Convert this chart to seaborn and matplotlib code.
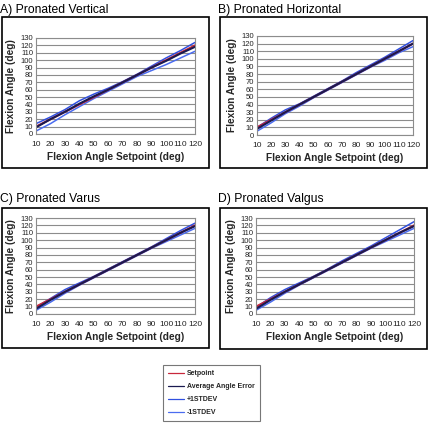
import numpy as np
import pandas as pd
import seaborn as sns
import matplotlib.pyplot as plt
from matplotlib.patches import Rectangle
from matplotlib.lines import Line2D

sns.set_theme(style="white")
plt.rcParams['font.family'] = ['Liberation Sans', 'DejaVu Sans']

setpoint = [10, 20, 30, 40, 50, 60, 70, 80, 90, 100, 110, 120]

titles = ["A) Pronated Vertical", "B) Pronated Horizontal",
          "C) Pronated Varus", "D) Pronated Valgus"]

avg_A = [9, 20, 30, 41, 51, 60, 70, 80, 90, 99, 109, 118]
plus_A = [14, 23, 33, 45, 54, 62, 71, 81, 92, 103, 113, 124]
minus_A = [4, 14, 26, 37, 48, 58, 68, 78, 86, 94, 103, 112]

avg_B = [8, 19, 30, 40, 50, 60, 70, 80, 90, 100, 110, 120]
plus_B = [10, 22, 33, 41, 51, 61, 71, 82, 92, 102, 113, 124]
minus_B = [5, 16, 28, 38, 49, 59, 69, 79, 89, 98, 108, 116]

avg_C = [7, 19, 30, 40, 50, 60, 70, 80, 90, 100, 110, 119]
plus_C = [9, 21, 33, 42, 51, 61, 71, 81, 91, 102, 113, 123]
minus_C = [5, 16, 28, 39, 49, 59, 69, 79, 89, 98, 107, 116]

avg_D = [7, 19, 30, 40, 50, 60, 70, 80, 90, 100, 110, 119]
plus_D = [9, 22, 33, 42, 51, 61, 72, 82, 92, 103, 114, 125]
minus_D = [5, 16, 28, 39, 49, 59, 69, 79, 89, 98, 107, 116]

x_ticks = [10, 20, 30, 40, 50, 60, 70, 80, 90, 100, 110, 120]
y_ticks = [0, 10, 20, 30, 40, 50, 60, 70, 80, 90, 100, 110, 120, 130]

series_names = ["Setpoint", "Average Angle Error", "+1STDEV", "-1STDEV"]
colors = {"Setpoint": "#c8283c", "Average Angle Error": "#1a1a50",
          "+1STDEV": "#3050e0", "-1STDEV": "#4a6cf0"}
widths = {"Setpoint": 1.5, "Average Angle Error": 1.5, "+1STDEV": 1.1, "-1STDEV": 1.1}

panels = [
    (avg_A, plus_A, minus_A),
    (avg_B, plus_B, minus_B),
    (avg_C, plus_C, minus_C),
    (avg_D, plus_D, minus_D),
]

W, H = 429, 424
fig = plt.figure(figsize=(W / 100, H / 100), dpi=100)

def fx(px):
    return px / W

def fy(py):
    return 1 - py / H

# axes boxes in pixel coords (left, top, right, bottom)
ax_px = [(36, 38, 195, 134), (257, 36, 413, 135), (36, 218, 195, 314), (256, 218, 414, 314)]
frame_px = [(2, 17, 209, 168), (220, 17, 427, 168), (2, 208, 209, 348), (220, 208, 427, 349)]
title_px = [(0, 10), (218, 10), (0, 199), (218, 199)]

for i in range(4):
    l, t, r, b = frame_px[i]
    fig.patches.append(Rectangle((fx(l), fy(b)), fx(r) - fx(l), fy(t) - fy(b),
                                 transform=fig.transFigure, fill=False,
                                 edgecolor="black", linewidth=1.2, zorder=0))
    tx, ty = title_px[i]
    fig.text(fx(tx), fy(ty), titles[i], fontsize=8.7, ha="left", va="center", color="black")

    l, t, r, b = ax_px[i]
    ax = fig.add_axes([fx(l), fy(b), fx(r) - fx(l), fy(t) - fy(b)])
    avg, plus, minus = panels[i]
    df = pd.DataFrame({
        "x": setpoint * 4,
        "y": setpoint + avg + plus + minus,
        "s": sum([[n] * len(setpoint) for n in series_names], []),
    })
    for name in ["+1STDEV", "-1STDEV", "Setpoint", "Average Angle Error"]:
        sub = df[df["s"] == name]
        sns.lineplot(data=sub, x="x", y="y", ax=ax, color=colors[name],
                     linewidth=widths[name], legend=False)
    ax.set_xlim(10, 120)
    ax.set_ylim(0, 130)
    ax.set_xticks(x_ticks)
    ax.set_yticks(y_ticks)
    ax.tick_params(axis="both", length=0, colors="#222222")
    ax.tick_params(axis="x", pad=5, labelsize=6.0)
    ax.tick_params(axis="y", pad=2, labelsize=5.5)
    ax.grid(axis="y", color="#8c8c8c", linewidth=0.8)
    ax.set_axisbelow(True)
    for sp in ax.spines.values():
        sp.set_color("#8c8c8c")
        sp.set_linewidth(0.8)
    ax.set_xlabel("Flexion Angle Setpoint (deg)", fontsize=7.3, fontweight="bold", labelpad=3)
    ax.set_ylabel("Flexion Angle (deg)", fontsize=7.3, fontweight="bold", labelpad=3)

# legend
handles = [Line2D([0], [0], color=colors[n], linewidth=0.9) for n in series_names]
leg = fig.legend(handles, series_names, loc="upper left",
                 bbox_to_anchor=(fx(160), fy(362)), bbox_transform=fig.transFigure,
                 fontsize=5.0, frameon=True, fancybox=False, handlelength=2.2,
                 handletextpad=0.5, labelspacing=0.85, borderpad=0.7)
leg.get_frame().set_edgecolor("#555555")
leg.get_frame().set_linewidth(0.8)
for txt in leg.get_texts():
    txt.set_fontweight("bold")

fig.savefig("out.png", dpi=100)
